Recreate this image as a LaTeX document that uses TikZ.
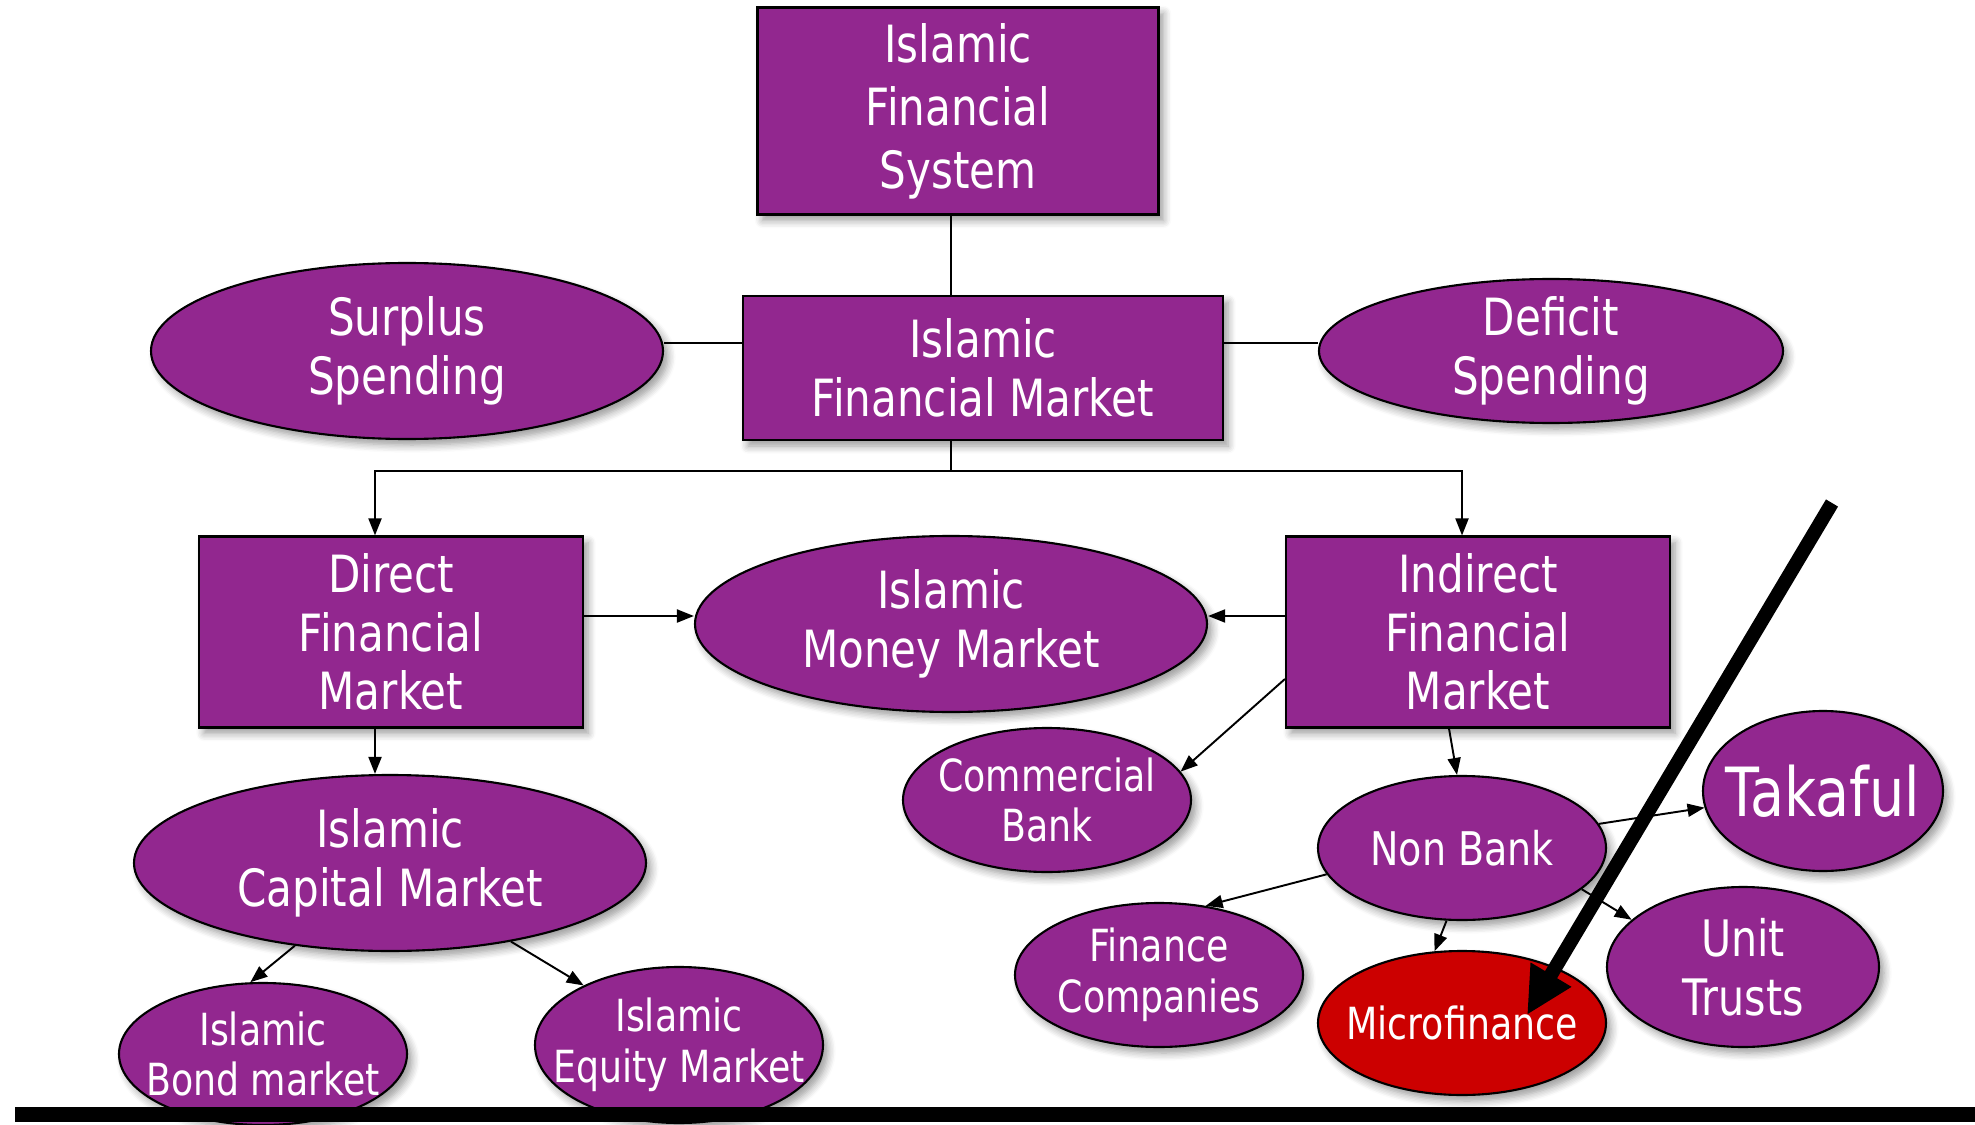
\documentclass[tikz,border=0pt]{standalone}
\usepackage{fontspec}
\setmainfont{DejaVu Sans}[FakeStretch=0.82]
\usetikzlibrary{shapes.geometric,shadows.blur,arrows.meta}
\definecolor{islampurple}{HTML}{92278F}
\definecolor{microred}{HTML}{CC0000}

\begin{document}
\begin{tikzpicture}[x=0.1mm,y=-0.1mm,
        panel/.style={rectangle,draw=black,line width=.6pt,fill=islampurple,text=white,
            align=center,inner sep=0pt,
            blur shadow={shadow xshift=.5mm,shadow yshift=-.6mm,shadow opacity=40,shadow blur steps=6}},
        bubble/.style={ellipse,draw=black,line width=.6pt,fill=islampurple,text=white,
            align=center,inner sep=-3cm,
            blur shadow={shadow xshift=.5mm,shadow yshift=-.6mm,shadow opacity=40,shadow blur steps=6}},
        big/.style={font=\fontsize{14.6}{16.6}\selectfont},
        small/.style={font=\fontsize{12.6}{14.4}\selectfont},
        link/.style={line width=.55pt},
        arr/.style={link,-{Triangle[length=1.7mm,width=1.3mm]}}]
    \useasboundingbox (0,0) rectangle (1975,1125);

    % Boxes
    \node[panel,font=\fontsize{14.6}{17.9}\selectfont,minimum width=40.1mm,minimum height=20.7mm] (ifs) at (958,111) {Islamic\\Financial\\System};
    \node[panel,big,minimum width=48mm,minimum height=14.4mm] (ifm) at (983,368) {Islamic\\Financial Market};
    \node[panel,big,minimum width=38.4mm,minimum height=19.1mm] (direct) at (391,632) {Direct\\Financial\\Market};
    \node[panel,big,minimum width=38.4mm,minimum height=19.1mm] (indirect) at (1478,632) {Indirect\\Financial\\Market};

    % Ellipses
    \node[bubble,big,minimum width=51.2mm,minimum height=17.6mm] (surplus) at (407,351) {Surplus\\Spending};
    \node[bubble,big,minimum width=46.4mm,minimum height=14.4mm] (deficit) at (1551,351) {Deficit\\Spending};
    \node[bubble,big,minimum width=51.2mm,minimum height=17.6mm] (money) at (951,624) {Islamic\\Money Market};
    \node[bubble,big,minimum width=51.2mm,minimum height=17.6mm] (capital) at (390,863) {Islamic\\Capital Market};
    \node[bubble,small,minimum width=28.8mm,minimum height=14.2mm] (bond) at (263,1054) {Islamic\\Bond market};
    \node[bubble,small,minimum width=28.8mm,minimum height=15.6mm] (equity) at (679,1045) {Islamic\\Equity Market};
    \node[bubble,small,minimum width=28.8mm,minimum height=14.4mm] (commercial) at (1047,800) {Commercial\\Bank};
    \node[bubble,font=\fontsize{13.2}{15}\selectfont,minimum width=28.8mm,minimum height=14.4mm] (nonbank) at (1462,848) {Non Bank};
    \node[bubble,font=\fontsize{19.3}{21}\selectfont,minimum width=24mm,minimum height=16mm] (takaful) at (1823,791) {Takaful};
    \node[bubble,font=\fontsize{14.3}{16.8}\selectfont,minimum width=27.2mm,minimum height=16mm] (unit) at (1743,967) {Unit\\Trusts};
    \node[bubble,small,minimum width=28.8mm,minimum height=14.4mm] (finance) at (1159,975) {Finance\\Companies};
    \node[bubble,small,fill=microred,minimum width=28.8mm,minimum height=14.4mm] (micro) at (1462,1023) {Microfinance};

    % Top part
    \draw[link] ([xshift=-.7mm]ifs.south) -- ([xshift=-.7mm]ifs.south |- ifm.north);
    \draw[link] ([yshift=.8mm]surplus.east) -- ([yshift=.8mm]surplus.east -| ifm.west);
    \draw[link] ([yshift=2.5mm]ifm.east) -- ([yshift=.8mm]deficit.west);
    \coordinate (fork) at (951,471);
    \draw[link] (ifm.south -| fork) -- (fork);
    \draw[arr] (fork) -| ([xshift=-1.6mm]direct.north);
    \draw[arr] (fork) -| ([xshift=-1.6mm]indirect.north);

    % Markets
    \draw[arr] ([yshift=1.6mm]direct.east) -- ([yshift=1.6mm]direct.east -| money.west);
    \draw[arr] ([yshift=1.6mm]indirect.west) -- ([yshift=1.6mm]indirect.west -| money.east);
    \draw[arr] ([xshift=-1.6mm]direct.south) -- ([xshift=-1.6mm]direct.south |- capital.north);
    \draw[arr] (capital.221) -- (bond.100);
    \draw[arr] (capital.327) -- (equity.148);
    \draw[arr] ([yshift=-4.7mm]indirect.west) -- (commercial.12);
    \draw[arr] ([xshift=-2.9mm]indirect.south) -- ([xshift=-.5mm]nonbank.north);
    \draw[arr] (nonbank.10) -- (takaful.188);
    \draw[arr] (nonbank.341) -- (unit.157);
    \draw[arr] (nonbank.191) -- (finance.56);
    \draw[arr] (nonbank.258) -- (micro.111);

    % Pointer and bottom bar
    \coordinate (pointer) at (1832,503);
    \draw[line width=1.4mm,-{Triangle[length=4.7mm,width=4.4mm]}] (pointer) -- ([shift={(65,-8)}]micro.center);
    \fill[black] (15,1107) rectangle (1975,1122);
\end{tikzpicture}
\end{document}
